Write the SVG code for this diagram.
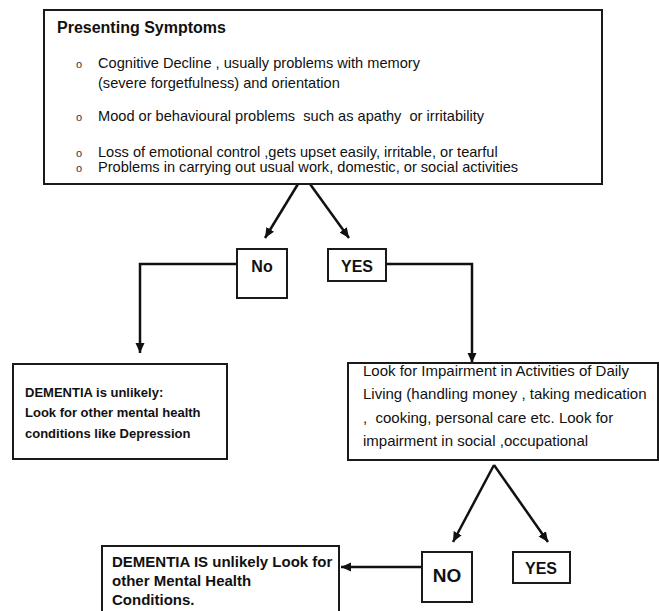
<svg xmlns="http://www.w3.org/2000/svg" width="659" height="611" viewBox="0 0 659 611">
  <style>
    text { white-space: pre; }
    .box { fill: #ffffff; stroke: #1a1a1a; stroke-width: 2; }
    .link { fill: none; stroke: #111111; stroke-width: 2.5; }
    .body { font-family: "Liberation Sans", Arial, sans-serif; font-size: 14.6px; fill: #111111; }
    .title { font-family: "Liberation Sans", Arial, sans-serif; font-size: 16px; font-weight: bold; fill: #111111; }
    .bul { font-family: "Liberation Sans", Arial, sans-serif; font-size: 11px; fill: #333333; }
    .lbl { font-family: "Liberation Sans", Arial, sans-serif; font-size: 16px; font-weight: bold; fill: #111111; text-anchor: middle; }
    .note { font-family: "Liberation Sans", Arial, sans-serif; font-size: 13px; font-weight: bold; fill: #111111; }
    .adl { font-family: "Liberation Sans", Arial, sans-serif; font-size: 15px; fill: #111111; }
    .end { font-family: "Liberation Sans", Arial, sans-serif; font-size: 15px; font-weight: bold; fill: #111111; }
  </style>
  <defs>
    <marker id="arrow" markerUnits="userSpaceOnUse" markerWidth="12" markerHeight="10" refX="10" refY="4.5" orient="auto">
      <path d="M0,0 L10,4.5 L0,9 Z" fill="#111111"/>
    </marker>
  </defs>

  <rect width="659" height="611" fill="#ffffff"/>

  <g id="connectors">
    <line class="link" x1="298" y1="184" x2="265" y2="238" marker-end="url(#arrow)"/>
    <line class="link" x1="310" y1="184" x2="349" y2="238" marker-end="url(#arrow)"/>
    <polyline class="link" points="237,264 140,264 140,353" marker-end="url(#arrow)"/>
    <polyline class="link" points="386,264 472,264 472,363" marker-end="url(#arrow)"/>
    <line class="link" x1="494" y1="465" x2="453" y2="542" marker-end="url(#arrow)"/>
    <line class="link" x1="494" y1="465" x2="548" y2="542" marker-end="url(#arrow)"/>
    <line class="link" x1="422" y1="567" x2="341" y2="567" marker-end="url(#arrow)"/>
  </g>

  <g id="symptoms">
    <rect class="box" x="44" y="10" width="558" height="174"/>
    <text class="title" x="57" y="33">Presenting Symptoms</text>
    <text class="bul" x="76" y="68">o</text>
    <text class="body" x="98" y="68">Cognitive Decline , usually problems with memory</text>
    <text class="body" x="98" y="88">(severe forgetfulness) and orientation</text>
    <text class="bul" x="76" y="121">o</text>
    <text class="body" x="98" y="121">Mood or behavioural problems  such as apathy  or irritability</text>
    <text class="bul" x="76" y="157">o</text>
    <text class="body" x="98" y="157">Loss of emotional control ,gets upset easily, irritable, or tearful</text>
    <text class="bul" x="76" y="172">o</text>
    <text class="body" x="98" y="172">Problems in carrying out usual work, domestic, or social activities</text>
  </g>

  <g id="no1">
    <rect class="box" x="237" y="249" width="50" height="49"/>
    <text class="lbl" x="262" y="272">No</text>
  </g>

  <g id="yes1">
    <rect class="box" x="328" y="249" width="58" height="32"/>
    <text class="lbl" x="357" y="272">YES</text>
  </g>

  <g id="unlikely1">
    <rect class="box" x="13" y="364" width="214" height="95"/>
    <text class="note" x="25" y="397">DEMENTIA is unlikely:</text>
    <text class="note" x="25" y="417">Look for other mental health</text>
    <text class="note" x="25" y="438">conditions like Depression</text>
  </g>

  <g id="adl">
    <rect class="box" x="348" y="363" width="310" height="97"/>
    <text class="adl" x="363" y="376">Look for Impairment in Activities of Daily</text>
    <text class="adl" x="363" y="399">Living (handling money , taking medication</text>
    <text class="adl" x="363" y="423">,  cooking, personal care etc. Look for</text>
    <text class="adl" x="363" y="446">impairment in social ,occupational</text>
  </g>

  <g id="no2">
    <rect class="box" x="422" y="552" width="50" height="50"/>
    <text class="lbl" x="447" y="582" style="font-size:19px">NO</text>
  </g>

  <g id="yes2">
    <rect class="box" x="513" y="552" width="57" height="31"/>
    <text class="lbl" x="541" y="574">YES</text>
  </g>

  <g id="unlikely2">
    <rect class="box" x="102" y="546" width="237" height="70"/>
    <text class="end" x="112" y="567">DEMENTIA IS unlikely Look for</text>
    <text class="end" x="112" y="586">other Mental Health</text>
    <text class="end" x="112" y="605">Conditions.</text>
  </g>
</svg>
